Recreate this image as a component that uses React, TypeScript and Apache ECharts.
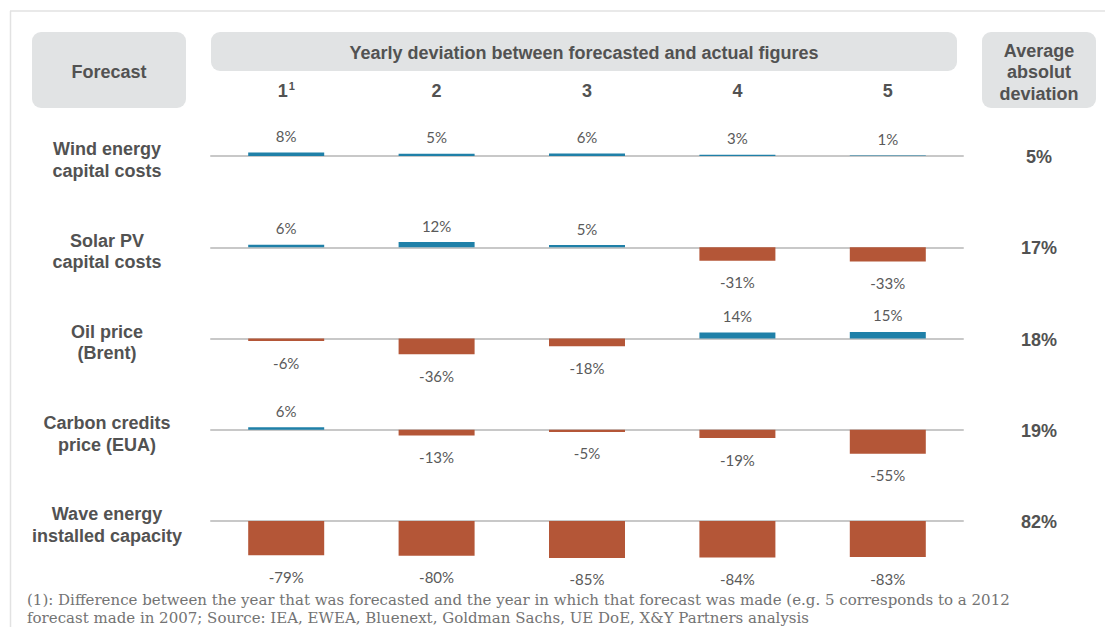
import React, { useEffect, useRef } from "react";
import * as echarts from "echarts";

// Forecast rows and the five yearly horizons
const rowNames = [
  "Wind energy\ncapital costs",
  "Solar PV\ncapital costs",
  "Oil price\n(Brent)",
  "Carbon credits\nprice (EUA)",
  "Wave energy\ninstalled capacity",
];
const yearCols = ["1", "2", "3", "4", "5"];

// Yearly deviation between forecasted and actual figures (%)
const windCapex = [8, 5, 6, 3, 1];
const solarCapex = [6, 12, 5, -31, -33];
const oilPrice = [-6, -36, -18, 14, 15];
const carbonPrice = [6, -13, -5, -19, -55];
const waveCapacity = [-79, -80, -85, -84, -83];

// Average absolute deviation per forecast (%)
const avgAbsDeviation = [5, 17, 18, 19, 82];

const footnoteLines = [
  "(1): Difference between the year that was forecasted and the year in which that forecast was made (e.g. 5 corresponds to a 2012",
  "forecast made in 2007; Source: IEA, EWEA, Bluenext, Goldman Sachs, UE DoE, X&Y Partners analysis",
];

const rows = [windCapex, solarCapex, oilPrice, carbonPrice, waveCapacity];

const POS_COLOR = "#1f80a8";
const NEG_COLOR = "#b45637";
const TEXT_DARK = "#525252";
const LABEL_GRAY = "#5a5a5a";
const BOX_FILL = "#e1e3e4";
const BOLD_FONT = "bold 18px 'Liberation Sans', Arial, sans-serif";

const GRID_LEFT = 211;
const GRID_WIDTH = 752;
const FIRST_BASE = 156;
const ROW_STEP = 91.25;
const HALF_H = 43.5; // 100% -> 43.5px

export default function App() {
  const ref = useRef<HTMLDivElement>(null);

  useEffect(() => {
    if (!ref.current) return;
    const chart = echarts.init(ref.current, undefined, { renderer: "svg" });

    const baseOf = (i: number) => FIRST_BASE + i * ROW_STEP;

    const grids = rows.map((_, i) => ({
      left: GRID_LEFT,
      width: GRID_WIDTH,
      top: baseOf(i) - HALF_H,
      height: HALF_H * 2,
    }));

    const xAxes: any[] = rows.map((_, i) => ({
      type: "category",
      gridIndex: i,
      data: yearCols,
      axisLine: { onZero: true, lineStyle: { color: "#c8c8c8", width: 2 } },
      axisTick: { show: false },
      axisLabel: { show: false },
      splitLine: { show: false },
    }));
    // column headers on top of the first grid
    xAxes.push({
      type: "category",
      gridIndex: 0,
      position: "top",
      data: yearCols,
      axisLine: { show: false, onZero: false },
      axisTick: { show: false },
      axisLabel: {
        margin: 12,
        formatter: (v: string, idx: number) =>
          idx === 0 ? `{m|${v}}{sup|1}` : `{m|${v}}`,
        rich: {
          m: {
            fontFamily: "'Liberation Sans', Arial, sans-serif",
            fontWeight: "bold",
            fontSize: 18,
            color: TEXT_DARK,
            lineHeight: 20,
          },
          sup: {
            fontFamily: "'Liberation Sans', Arial, sans-serif",
            fontWeight: "bold",
            fontSize: 11,
            color: TEXT_DARK,
            verticalAlign: "top",
            lineHeight: 20,
            padding: [0, 0, 8, 1],
          },
        },
      },
    });

    const yAxes = rows.map((_, i) => ({
      type: "value",
      gridIndex: i,
      min: -100,
      max: 100,
      show: false,
      splitLine: { show: false },
    }));

    const series = rows.map((vals, i) => ({
      type: "bar",
      xAxisIndex: i,
      yAxisIndex: i,
      barWidth: 76,
      data: vals.map((v) => ({
        value: v,
        itemStyle: { color: v >= 0 ? POS_COLOR : NEG_COLOR },
        label: {
          show: true,
          position: v >= 0 ? "top" : "bottom",
          distance: v >= 0 ? 9 : 14,
          formatter: `${v}%`,
          fontFamily: "Lato, 'Open Sans', sans-serif",
          fontSize: 15,
          color: LABEL_GRAY,
        },
      })),
    }));

    const graphics: any[] = [];
    // outer frame
    graphics.push({
      type: "line",
      shape: { x1: 10, y1: 11, x2: 1105, y2: 11 },
      style: { stroke: "#e2e2e2", lineWidth: 1.5 },
    });
    graphics.push({
      type: "line",
      shape: { x1: 10.5, y1: 11, x2: 10.5, y2: 627 },
      style: { stroke: "#e2e2e2", lineWidth: 1.5 },
    });
    // header boxes
    graphics.push({
      type: "rect",
      shape: { x: 32, y: 32, width: 154, height: 76, r: 9 },
      style: { fill: BOX_FILL },
    });
    graphics.push({
      type: "rect",
      shape: { x: 211, y: 32, width: 746, height: 39, r: 9 },
      style: { fill: BOX_FILL },
    });
    graphics.push({
      type: "rect",
      shape: { x: 982, y: 32, width: 114, height: 76, r: 9 },
      style: { fill: BOX_FILL },
    });
    graphics.push({
      type: "text",
      style: {
        text: "Forecast",
        x: 109,
        y: 72,
        font: BOLD_FONT,
        fill: TEXT_DARK,
        textAlign: "center",
        textVerticalAlign: "middle",
      },
    });
    graphics.push({
      type: "text",
      style: {
        text: "Yearly deviation between forecasted and actual figures",
        x: 584,
        y: 53,
        font: BOLD_FONT,
        fill: TEXT_DARK,
        textAlign: "center",
        textVerticalAlign: "middle",
      },
    });
    graphics.push({
      type: "text",
      style: {
        text: "Average\nabsolut\ndeviation",
        x: 1039,
        y: 72,
        font: BOLD_FONT,
        lineHeight: 21.5,
        fill: TEXT_DARK,
        textAlign: "center",
        textVerticalAlign: "middle",
      },
    });
    // row labels and averages
    rowNames.forEach((name, i) => {
      graphics.push({
        type: "text",
        style: {
          text: name,
          x: 107,
          y: baseOf(i) + 4,
          font: BOLD_FONT,
          lineHeight: 21.5,
          fill: TEXT_DARK,
          textAlign: "center",
          textVerticalAlign: "middle",
        },
      });
      graphics.push({
        type: "text",
        style: {
          text: `${avgAbsDeviation[i]}%`,
          x: 1039,
          y: baseOf(i) + 1,
          font: BOLD_FONT,
          fill: TEXT_DARK,
          textAlign: "center",
          textVerticalAlign: "middle",
        },
      });
    });
    // footnote
    footnoteLines.forEach((line, k) => {
      graphics.push({
        type: "text",
        style: {
          text: line,
          x: 27,
          y: 600 + k * 18,
          font: "15px 'DejaVu Serif', serif",
          fill: "#737373",
          textAlign: "left",
          textVerticalAlign: "middle",
        },
      });
    });

    chart.setOption({
      animation: false,
      backgroundColor: "#ffffff",
      grid: grids,
      xAxis: xAxes,
      yAxis: yAxes,
      series,
      graphic: graphics,
    });

    return () => chart.dispose();
  }, []);

  return (
    <div
      ref={ref}
      style={{ position: "absolute", left: 0, top: 0, width: 1105, height: 627 }}
    />
  );
}
